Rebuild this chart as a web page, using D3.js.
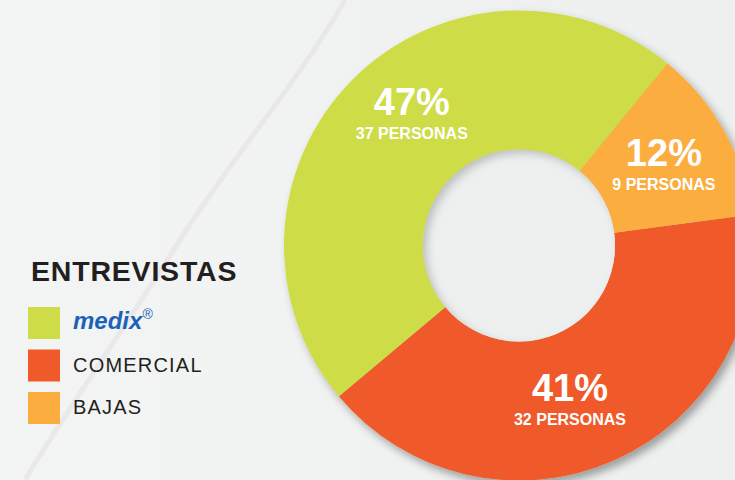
<!DOCTYPE html>
<html>
<head>
<meta charset="utf-8">
<script src="https://cdn.jsdelivr.net/npm/d3@7"></script>
<style>
  body { margin: 0; background: #f0f2f1; }
  svg { display: block; font-family: 'Liberation Sans', Arial, sans-serif; }
</style>
</head>
<body>
<svg id="chart" width="735" height="480"></svg>
<script>
const categories = ['medix', 'COMERCIAL', 'BAJAS'];
const percents = [47, 41, 12];
const personas = [37, 32, 9];
const sliceColors = ['#cddc47', '#f05a2a', '#fbad40'];
// clockwise order of the slices round the ring
const sliceOrder = ['medix', 'BAJAS', 'COMERCIAL'];

function drawBackground(svg) {
  const grad = svg.append('defs')
    .append('linearGradient')
    .attr('id', 'bg')
    .attr('x1', 0).attr('x2', 1).attr('y1', 0).attr('y2', 0);
  grad.append('stop').attr('offset', 0).attr('stop-color', '#f3f5f5');
  grad.append('stop').attr('offset', 1).attr('stop-color', '#eef0ef');

  svg.append('rect')
    .attr('width', 735)
    .attr('height', 480)
    .attr('fill', 'url(#bg)');
  // faint diagonal streak behind the chart
  svg.append('path')
    .attr('d', 'M345,0 C300,80 230,160 180,240 S60,420 25,480')
    .attr('fill', 'none')
    .attr('stroke', '#e7e5e6')
    .attr('stroke-width', 5)
    .attr('opacity', 0.8);
}

function drawDonut(svg) {
  const cx = 519;
  const cy = 245.5;
  const outerR = 235;
  const innerR = 96;

  const defs = svg.append('defs');
  defs.append('filter')
    .attr('id', 'ringShadow')
    .attr('x', '-20%').attr('y', '-20%')
    .attr('width', '140%').attr('height', '140%')
    .append('feDropShadow')
    .attr('dx', 4)
    .attr('dy', 5)
    .attr('stdDeviation', 4)
    .attr('flood-color', '#000')
    .attr('flood-opacity', 0.35);

  const inner = defs.append('filter')
    .attr('id', 'holeShadow')
    .attr('x', '-10%').attr('y', '-10%')
    .attr('width', '120%').attr('height', '120%');
  inner.append('feOffset').attr('in', 'SourceAlpha').attr('dx', 4).attr('dy', 4).attr('result', 'off');
  inner.append('feGaussianBlur').attr('in', 'off').attr('stdDeviation', 4).attr('result', 'blur');
  inner.append('feComposite').attr('operator', 'out').attr('in', 'SourceAlpha').attr('in2', 'blur').attr('result', 'edge');
  inner.append('feFlood').attr('flood-color', '#000').attr('flood-opacity', 0.4).attr('result', 'col');
  inner.append('feComposite').attr('operator', 'in').attr('in', 'col').attr('in2', 'edge').attr('result', 'sh');
  const merge = inner.append('feMerge');
  merge.append('feMergeNode').attr('in', 'SourceGraphic');
  merge.append('feMergeNode').attr('in', 'sh');

  const color = d3.scaleOrdinal()
    .domain(categories)
    .range(sliceColors);

  const start = -130 * Math.PI / 180;
  const pie = d3.pie()
    .sort((a, b) => sliceOrder.indexOf(a.name) - sliceOrder.indexOf(b.name))
    .value((d) => d.pct)
    .startAngle(start)
    .endAngle(start + 2 * Math.PI);

  const data = categories.map((c, i) => ({ name: c, pct: percents[i], n: personas[i] }));
  const arcs = pie(data);

  const arc = d3.arc()
    .innerRadius(innerR)
    .outerRadius(outerR);

  const labelArc = d3.arc()
    .innerRadius(166)
    .outerRadius(166);

  const g = svg.append('g')
    .attr('transform', `translate(${cx} ${cy})`);

  g.append('g')
    .attr('filter', 'url(#ringShadow)')
    .selectAll('path.slice')
    .data(arcs)
    .enter()
    .append('path')
    .attr('class', 'slice')
    .attr('d', arc)
    .attr('fill', (d) => color(d.data.name));

  g.append('circle')
    .attr('r', innerR)
    .attr('fill', '#edf0ef')
    .attr('filter', 'url(#holeShadow)');

  // small hand tweaks so labels sit where the original placed them
  const nudge = { medix: [11, -16], COMERCIAL: [-16, 2], BAJAS: [0, -1] };

  const labels = g.selectAll('g.label')
    .data(arcs)
    .enter()
    .append('g')
    .attr('class', 'label')
    .attr('transform', (d) => {
      const c = labelArc.centroid(d);
      const n = nudge[d.data.name];
      return `translate(${c[0] + n[0]} ${c[1] + n[1]})`;
    });

  labels.append('text')
    .attr('text-anchor', 'middle')
    .attr('y', 2)
    .attr('font-size', '38px')
    .attr('font-weight', 'bold')
    .attr('fill', '#fff')
    .text((d) => d.data.pct + '%');

  labels.append('text')
    .attr('text-anchor', 'middle')
    .attr('y', 26)
    .attr('font-size', '16px')
    .attr('font-weight', 'bold')
    .attr('fill', '#fff')
    .text((d) => d.data.n + ' PERSONAS');
}

function drawLegend(svg) {
  const legend = svg.append('g');

  legend.append('text')
    .attr('x', 31)
    .attr('y', 281)
    .attr('font-size', '28.5px')
    .attr('font-weight', 'bold')
    .attr('letter-spacing', '0.8px')
    .attr('fill', '#231f20')
    .text('ENTREVISTAS');

  const y = d3.scalePoint()
    .domain(categories)
    .range([307, 392]);

  const items = legend.selectAll('g.item')
    .data(categories)
    .enter()
    .append('g')
    .attr('class', 'item')
    .attr('transform', (d) => `translate(28 ${y(d)})`);

  items.append('rect')
    .attr('width', 32)
    .attr('height', 32)
    .attr('fill', (d, i) => sliceColors[i]);

  items.each(function(d) {
    const t = d3.select(this).append('text')
      .attr('x', 45)
      .attr('y', 22);
    if (d === 'medix') {
      t.attr('font-size', '24px')
        .attr('font-weight', 'bold')
        .attr('font-style', 'italic')
        .attr('fill', '#1c63b7')
        .text('medix');
      t.append('tspan')
        .attr('font-size', '14px')
        .attr('font-style', 'normal')
        .attr('font-weight', 'normal')
        .attr('dy', -10)
        .text('®');
    } else {
      t.attr('font-size', '20px')
        .attr('fill', '#231f20')
        .attr('letter-spacing', '1.2px')
        .text(d);
    }
  });
}

const svg = d3.select('svg#chart');
drawBackground(svg);
drawDonut(svg);
drawLegend(svg);
</script>
</body>
</html>
